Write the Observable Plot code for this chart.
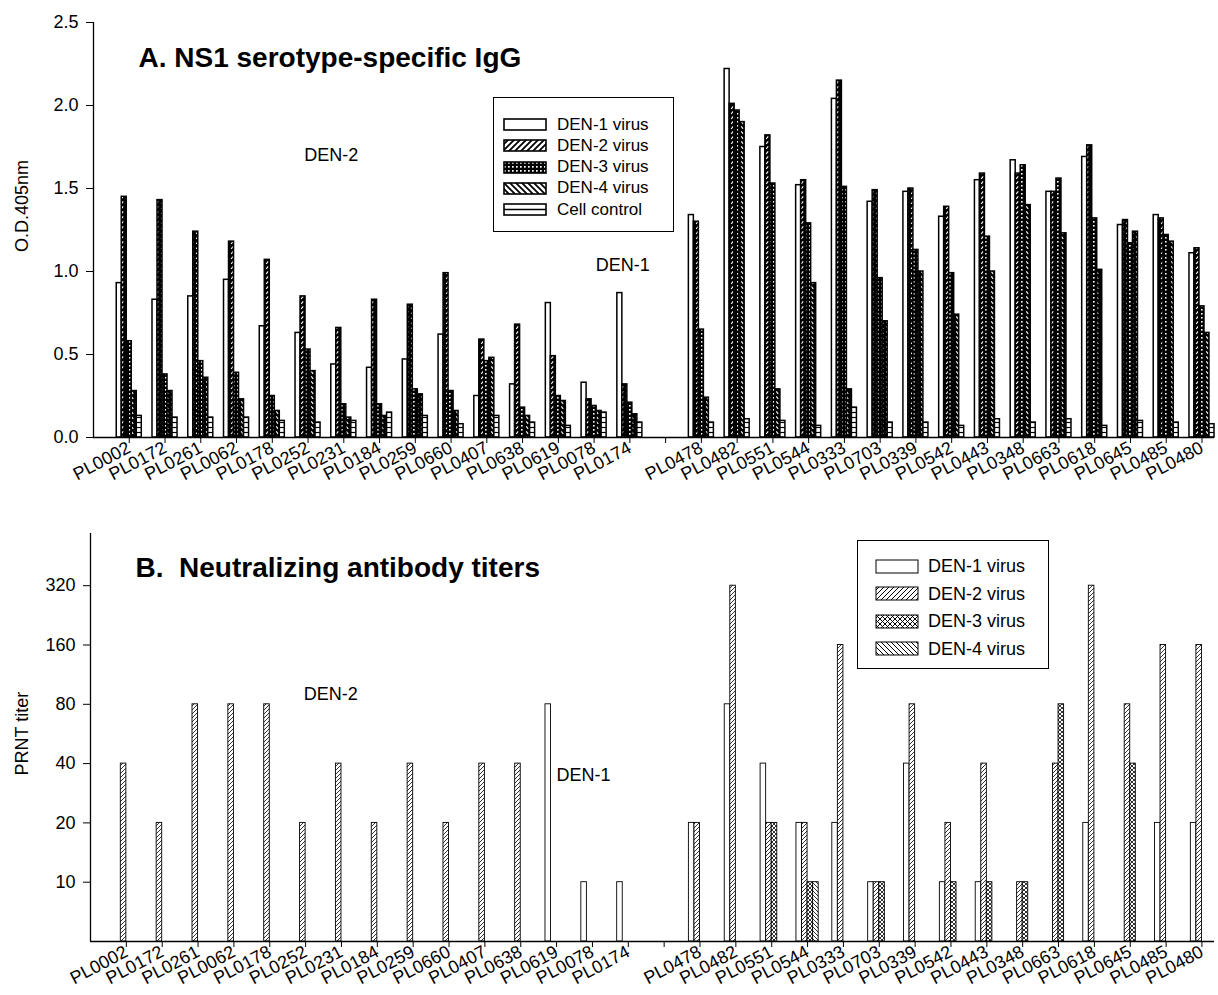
<!DOCTYPE html>
<html><head><meta charset="utf-8">
<script src="https://cdn.jsdelivr.net/npm/d3@7"></script>
<script src="https://cdn.jsdelivr.net/npm/@observablehq/plot@0.6"></script>
<style>
body{margin:0;background:#fff;font-family:"Liberation Sans",Arial,sans-serif;}
#wrap{position:relative;width:1218px;height:995px;overflow:hidden;}
.panel{position:absolute;left:0;}
.legend{position:absolute;border:1.3px solid #000;background:#fff;box-sizing:border-box;}
.legend .row{position:absolute;left:0;height:20px;white-space:nowrap;}
.legend .row svg{position:absolute;top:0;}
.legend .row span{position:absolute;top:50%;transform:translateY(-50%);color:#000;}
</style></head><body>
<svg width="0" height="0" style="position:absolute;left:0;top:0">
<defs>
<pattern id="pA2" patternUnits="userSpaceOnUse" width="5" height="5">
  <rect width="5" height="5" fill="#000"/>
  <path d="M1.2,3.8 L3.2,1.3" stroke="#fff" stroke-width="1.1"/>
</pattern>
<pattern id="pA3" patternUnits="userSpaceOnUse" width="4" height="4">
  <rect width="4" height="4" fill="#000"/>
  <rect x="1" y="1" width="1.6" height="1.6" fill="#fff"/>
</pattern>
<pattern id="pA4" patternUnits="userSpaceOnUse" width="5" height="5">
  <rect width="5" height="5" fill="#000"/>
  <path d="M1.2,1.3 L3.2,3.8" stroke="#fff" stroke-width="1.1"/>
</pattern>
<pattern id="pA5" patternUnits="userSpaceOnUse" width="5" height="5">
  <rect width="5" height="5" fill="#fff"/>
  <path d="M0,2.5 H5" stroke="#000" stroke-width="1.2"/>
</pattern>
<pattern id="pB2" patternUnits="userSpaceOnUse" width="4" height="4">
  <rect width="4" height="4" fill="#fff"/>
  <path d="M-1,1 L1,-1 M0,4 L4,0 M3,5 L5,3" stroke="#000" stroke-width="0.8"/>
</pattern>
<pattern id="pB3" patternUnits="userSpaceOnUse" width="4" height="4">
  <rect width="4" height="4" fill="#fff"/>
  <path d="M-1,1 L1,-1 M0,4 L4,0 M3,5 L5,3 M-1,3 L1,5 M0,0 L4,4 M3,-1 L5,1" stroke="#000" stroke-width="0.8"/>
</pattern>
<pattern id="pB4" patternUnits="userSpaceOnUse" width="4" height="4">
  <rect width="4" height="4" fill="#fff"/>
  <path d="M-1,3 L1,5 M0,0 L4,4 M3,-1 L5,1" stroke="#000" stroke-width="0.8"/>
</pattern>
<pattern id="pL2" patternUnits="userSpaceOnUse" width="6" height="6">
  <rect width="6" height="6" fill="#fff"/>
  <path d="M-1.5,1.5 L1.5,-1.5 M0,6 L6,0 M4.5,7.5 L7.5,4.5" stroke="#000" stroke-width="1.8"/>
</pattern>
<pattern id="pL3" patternUnits="userSpaceOnUse" width="4" height="4">
  <rect width="4" height="4" fill="#000"/>
  <rect x="1" y="1" width="1.7" height="1.7" fill="#fff"/>
</pattern>
<pattern id="pL4" patternUnits="userSpaceOnUse" width="6" height="6">
  <rect width="6" height="6" fill="#fff"/>
  <path d="M-1.5,4.5 L1.5,7.5 M0,0 L6,6 M4.5,-1.5 L7.5,1.5" stroke="#000" stroke-width="1.8"/>
</pattern>
<pattern id="pM2" patternUnits="userSpaceOnUse" width="5" height="5">
  <rect width="5" height="5" fill="#fff"/>
  <path d="M-1,1 L1,-1 M0,5 L5,0 M4,6 L6,4" stroke="#000" stroke-width="1"/>
</pattern>
<pattern id="pM3" patternUnits="userSpaceOnUse" width="5" height="5">
  <rect width="5" height="5" fill="#fff"/>
  <path d="M-1,1 L1,-1 M0,5 L5,0 M4,6 L6,4 M-1,4 L1,6 M0,0 L5,5 M4,-1 L6,1" stroke="#000" stroke-width="1"/>
</pattern>
<pattern id="pM4" patternUnits="userSpaceOnUse" width="5" height="5">
  <rect width="5" height="5" fill="#fff"/>
  <path d="M-1,4 L1,6 M0,0 L5,5 M4,-1 L6,1" stroke="#000" stroke-width="1"/>
</pattern>
</defs></svg>
<div id="wrap"></div>
<script>
// ---------- data ----------
const samplesLeft = ["PL0002","PL0172","PL0261","PL0062","PL0178","PL0252","PL0231","PL0184","PL0259","PL0660","PL0407","PL0638","PL0619","PL0078","PL0174"];
const samplesRight = ["PL0478","PL0482","PL0551","PL0544","PL0333","PL0703","PL0339","PL0542","PL0443","PL0348","PL0663","PL0618","PL0645","PL0485","PL0480"];

const seriesA = ["DEN-1 virus","DEN-2 virus","DEN-3 virus","DEN-4 virus","Cell control"];
const seriesB = ["DEN-1 virus","DEN-2 virus","DEN-3 virus","DEN-4 virus"];

// Panel A: O.D. 405nm (left 15 samples, then right 15 samples)
const den1A = [0.93,0.83,0.85,0.95,0.67,0.63,0.44,0.42,0.47,0.62,0.25,0.32,0.81,0.33,0.87, 1.34,2.22,1.75,1.52,2.04,1.42,1.48,1.33,1.55,1.67,1.48,1.69,1.28,1.34,1.11];
const den2A = [1.45,1.43,1.24,1.18,1.07,0.85,0.66,0.83,0.80,0.99,0.59,0.68,0.49,0.23,0.32, 1.30,2.01,1.82,1.55,2.15,1.49,1.50,1.39,1.59,1.59,1.48,1.76,1.31,1.32,1.14];
const den3A = [0.58,0.38,0.46,0.39,0.25,0.53,0.20,0.20,0.29,0.28,0.46,0.18,0.25,0.19,0.21, 0.65,1.97,1.53,1.29,1.51,0.96,1.13,0.99,1.21,1.64,1.56,1.32,1.17,1.22,0.79];
const den4A = [0.28,0.28,0.36,0.23,0.16,0.40,0.12,0.13,0.26,0.16,0.48,0.13,0.22,0.16,0.14, 0.24,1.90,0.29,0.93,0.29,0.70,1.00,0.74,1.00,1.40,1.23,1.01,1.24,1.18,0.63];
const cellA = [0.13,0.12,0.12,0.12,0.10,0.09,0.10,0.15,0.13,0.08,0.13,0.09,0.07,0.15,0.09, 0.09,0.11,0.10,0.07,0.18,0.09,0.09,0.07,0.11,0.09,0.11,0.07,0.10,0.09,0.08];

// Panel B: PRNT titers (null = no bar)
const den1B = [null,null,null,null,null,null,null,null,null,null,null,null,80,10,10, 20,80,40,20,20,10,40,10,10,null,null,20,null,20,20];
const den2B = [40,20,80,80,80,20,40,20,40,20,40,40,null,null,null, 20,320,20,20,160,10,80,20,40,10,40,320,80,160,160];
const den3B = [null,null,null,null,null,null,null,null,null,null,null,null,null,null,null, null,null,20,10,null,10,null,10,10,10,80,null,40,null,null];
const den4B = [null,null,null,null,null,null,null,null,null,null,null,null,null,null,null, null,null,null,10,null,null,null,null,null,null,null,null,null,null,null];

const yTicksA = [0, 0.5, 1.0, 1.5, 2.0, 2.5];
const yTicksB = [10, 20, 40, 80, 160, 320];

const titleA = "A. NS1 serotype-specific IgG";
const titleB = "B.  Neutralizing antibody titers";
const yLabelA = "O.D.405nm";
const yLabelB = "PRNT titer";
const notesA = [{t:"DEN-2", x:6.65, y:1.70}, {t:"DEN-1", x:14.8, y:1.04}];
const notesB = [{t:"DEN-2", x:6.7, y:90}, {t:"DEN-1", x:13.75, y:35}];

// ---------- derived tables ----------
const samples = [...samplesLeft, ...samplesRight];
const nLeft = samplesLeft.length;
const slot = j => j < nLeft ? j + 1 : j + 2; // one empty slot between the two groups
const nSlots = nLeft + samplesRight.length + 1;
const tickPos = d3.range(1, nSlots + 1);
const tickLabel = p => p <= nLeft ? samplesLeft[p - 1] : (p >= nLeft + 2 ? samplesRight[p - nLeft - 2] : "");

function rows(seriesArrays) {
  const out = [];
  seriesArrays.forEach((arr, k) => arr.forEach((v, j) => { if (v != null) out.push({k, pos: slot(j), v, sample: samples[j]}); }));
  return out;
}
const rowsA = rows([den1A, den2A, den3A, den4A, cellA]);
const rowsB = rows([den1B, den2B, den3B, den4B]);

const fillA = ["#fff", "url(#pA2)", "url(#pA3)", "url(#pA4)", "url(#pA5)"];
const fillB = ["#fff", "url(#pB2)", "url(#pB3)", "url(#pB4)"];
const wA = 0.14, wB = 0.155;
const font = "'Liberation Sans', Arial, sans-serif";

const xDomain = [0, nSlots + 0.35];
const xAxis = {domain: xDomain, ticks: tickPos, tickFormat: tickLabel, tickRotate: -28, tickSize: 6, tickPadding: 3, label: null};

const plotA = Plot.plot({
  width: 1218, height: 490,
  marginTop: 22, marginBottom: 53, marginLeft: 93, marginRight: 4,
  style: {fontSize: "18px", fontFamily: font, color: "#000", background: "transparent", overflow: "visible"},
  x: xAxis,
  y: {domain: [0, 2.5], ticks: yTicksA, tickFormat: d3.format(".1f"), tickSize: 7, tickPadding: 8, label: null},
  color: {type: "identity"},
  marks: [
    Plot.rect(rowsA, {x1: d => d.pos + (d.k - 2.5) * wA, x2: d => d.pos + (d.k - 1.5) * wA, y1: 0, y2: "v",
      fill: d => fillA[d.k], stroke: "#000", strokeWidth: 1.5}),
    Plot.ruleY([0], {stroke: "#000", strokeWidth: 1.3}),
    Plot.ruleX([0], {stroke: "#000", strokeWidth: 1.3}),
    Plot.text([titleA], {text: d => d, frameAnchor: "top-left", dx: 45, dy: 25, fontSize: 28, fontWeight: "bold", textAnchor: "start", lineAnchor: "top", fill: "#000"}),
    Plot.text([yLabelA], {text: d => d, frameAnchor: "left", rotate: -90, dx: -71, dy: 22, fontSize: 18, fill: "#000"}),
    Plot.text(notesA, {x: "x", y: "y", text: "t", fontSize: 18, fill: "#000"})
  ]
});

const plotB = Plot.plot({
  width: 1218, height: 505,
  marginTop: 43, marginBottom: 54, marginLeft: 90, marginRight: 4,
  style: {fontSize: "18px", fontFamily: font, color: "#000", background: "transparent", overflow: "visible"},
  x: xAxis,
  y: {type: "log", base: 2, domain: [5, 589], ticks: yTicksB, tickFormat: d => String(d), tickSize: 7, tickPadding: 8, label: null},
  color: {type: "identity"},
  marks: [
    Plot.rect(rowsB, {x1: d => d.pos + (d.k - 2) * wB, x2: d => d.pos + (d.k - 1) * wB, y1: 5, y2: "v",
      fill: d => fillB[d.k], stroke: "#000", strokeWidth: 0.9}),
    Plot.ruleY([5], {stroke: "#000", strokeWidth: 1.3}),
    Plot.ruleX([0], {stroke: "#000", strokeWidth: 1.3}),
    Plot.text([titleB], {text: d => d, frameAnchor: "top-left", dx: 45, dy: 24, fontSize: 28, fontWeight: "bold", textAnchor: "start", lineAnchor: "top", fill: "#000"}),
    Plot.text([yLabelB], {text: d => d, frameAnchor: "left", rotate: -90, dx: -68, dy: 38, fontSize: 18, fill: "#000"}),
    Plot.text(notesB, {x: "x", y: "y", text: "t", fontSize: 18, fill: "#000"})
  ]
});

const wrap = document.getElementById("wrap");
plotA.classList.add("panel"); plotA.style.top = "0px";
plotB.classList.add("panel"); plotB.style.top = "490px";
wrap.appendChild(plotA);
wrap.appendChild(plotB);

// ---------- legends ----------
function swatch(kind, w, h) {
  const ns = "http://www.w3.org/2000/svg";
  const s = document.createElementNS(ns, "svg");
  s.setAttribute("width", w + 2); s.setAttribute("height", h + 2);
  const r = document.createElementNS(ns, "rect");
  r.setAttribute("x", 1); r.setAttribute("y", 1); r.setAttribute("width", w); r.setAttribute("height", h);
  r.setAttribute("stroke", "#000"); r.setAttribute("stroke-width", kind.sw);
  r.setAttribute("fill", kind.fill);
  s.appendChild(r);
  if (kind.mid) {
    const l = document.createElementNS(ns, "line");
    l.setAttribute("x1", 1); l.setAttribute("x2", w + 1); l.setAttribute("y1", 1 + h / 2); l.setAttribute("y2", 1 + h / 2);
    l.setAttribute("stroke", "#000"); l.setAttribute("stroke-width", 1.3);
    s.appendChild(l);
  }
  return s;
}
function legend(cfg) {
  const box = document.createElement("div");
  box.className = "legend";
  Object.assign(box.style, {left: cfg.left + "px", top: cfg.top + "px", width: cfg.width + "px", height: cfg.height + "px"});
  cfg.labels.forEach((lab, i) => {
    const row = document.createElement("div");
    row.className = "row";
    row.style.top = (cfg.row0 + i * cfg.dy - cfg.top - 10) + "px";
    row.style.width = cfg.width + "px";
    const sw = swatch(cfg.kinds[i], cfg.sw, cfg.sh);
    sw.style.left = cfg.swx + "px";
    sw.style.top = (10 - (cfg.sh + 2) / 2) + "px";
    const sp = document.createElement("span");
    sp.textContent = lab;
    sp.style.left = cfg.tx + "px";
    sp.style.fontSize = cfg.fs + "px";
    row.appendChild(sw); row.appendChild(sp);
    box.appendChild(row);
  });
  wrap.appendChild(box);
}
legend({left: 493, top: 97, width: 181, height: 135, row0: 123.5, dy: 21.3, swx: 9, tx: 63, sw: 42, sh: 11, fs: 17,
  labels: seriesA,
  kinds: [{fill: "#fff", sw: 1.6}, {fill: "url(#pL2)", sw: 1.6}, {fill: "url(#pL3)", sw: 1.6}, {fill: "url(#pL4)", sw: 1.6}, {fill: "#fff", sw: 1.6, mid: true}]});
legend({left: 857, top: 540, width: 192, height: 129, row0: 565, dy: 27.5, swx: 17, tx: 70, sw: 42, sh: 13, fs: 18,
  labels: seriesB,
  kinds: [{fill: "#fff", sw: 1}, {fill: "url(#pM2)", sw: 1}, {fill: "url(#pM3)", sw: 1}, {fill: "url(#pM4)", sw: 1}]});
</script>
</body></html>
